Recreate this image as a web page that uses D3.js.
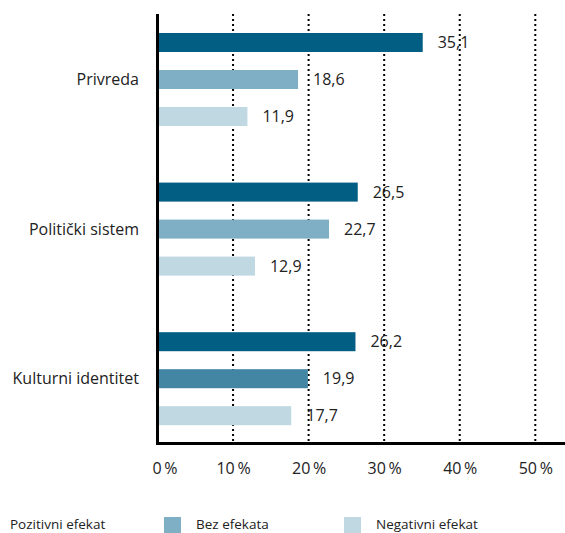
<!DOCTYPE html>
<html><head><meta charset="utf-8">
<script src="https://cdn.jsdelivr.net/npm/d3@7"></script>
<style>
html,body{margin:0;padding:0;background:#fff;}
svg{display:block;}
svg text{font-family:"Open Sans","Noto Sans",sans-serif;font-weight:380;}
</style></head>
<body><svg id="c" width="565" height="533"></svg>
<script>
const categories = ["Privreda", "Politički sistem", "Kulturni identitet"];
const seriesNames = ["Pozitivni efekat", "Bez efekata", "Negativni efekat"];
const pozitivni = [35.1, 26.5, 26.2];
const bezEfekata = [18.6, 22.7, 19.9];
const negativni = [11.9, 12.9, 17.7];
const tickValues = [0, 10, 20, 30, 40, 50];
const barColors = [
  ["#035e84", "#7fafc4", "#bfd8e2"],
  ["#035e84", "#7fafc4", "#bfd8e2"],
  ["#035e84", "#4286a3", "#bfd8e2"]
];
const legendColors = [null, "#7fafc4", "#bfd8e2"];

const values = [pozitivni, bezEfekata, negativni];
const data = categories.map((c, i) => ({cat: c, i, vals: seriesNames.map((s, j) => ({s, j, v: values[j][i]}))}));

const svg = d3.select("#c");
const x = d3.scaleLinear().domain([0, 50]).range([157.5, 535.3]);
const y0 = d3.scaleBand().domain(categories).range([4.7, 453.5]).padding(0);
const y1 = d3.scaleBand().domain(seriesNames).range([-55.5, 55.5]).paddingInner(0.486).paddingOuter(0.243);

// gridlines
svg.append("g").selectAll("line").data(tickValues.filter(d => d > 0)).join("line")
  .attr("x1", d => x(d)).attr("x2", d => x(d))
  .attr("y1", 14).attr("y2", 443)
  .attr("stroke", "#000").attr("stroke-width", 2).attr("stroke-dasharray", "2,3");

// bars
const g = svg.append("g").selectAll("g").data(data).join("g")
  .attr("transform", d => `translate(0,${y0(d.cat) + y0.bandwidth() / 2})`);
g.selectAll("rect").data(d => d.vals.map(v => ({...v, ci: d.i}))).join("rect")
  .attr("x", x(0))
  .attr("y", d => y1(d.s))
  .attr("width", d => x(d.v) - x(0))
  .attr("height", y1.bandwidth())
  .attr("fill", d => barColors[d.ci][d.j]);
g.selectAll("text.val").data(d => d.vals).join("text").attr("class", "val")
  .attr("x", d => x(d.v) + 15)
  .attr("y", d => y1(d.s) + y1.bandwidth() / 2)
  .attr("dy", "0.35em")
  .attr("font-size", 16).attr("fill", "#222")
  .text(d => d3.format(".1f")(d.v).replace(".", ","));

// category labels
svg.append("g").selectAll("text").data(categories).join("text")
  .attr("x", 139).attr("y", d => y0(d) + y0.bandwidth() / 2 + y1(seriesNames[1]) + y1.bandwidth() / 2)
  .attr("dy", "0.35em").attr("text-anchor", "end")
  .attr("font-size", 16).attr("fill", "#222").text(d => d);

// axes lines
svg.append("line").attr("x1", 157.5).attr("x2", 157.5).attr("y1", 14).attr("y2", 445)
  .attr("stroke", "#000").attr("stroke-width", 3);
svg.append("line").attr("x1", 156).attr("x2", 565).attr("y1", 443.5).attr("y2", 443.5)
  .attr("stroke", "#000").attr("stroke-width", 3);

// x tick labels
const xAxis = d3.axisBottom(x).tickValues(tickValues).tickSize(0).tickFormat(d => d + "\u2009%");
const ax = svg.append("g").attr("transform", "translate(0,460)").call(xAxis)
  .attr("font-family", null).attr("font-size", null);
ax.select(".domain").remove();
ax.selectAll("text").attr("font-size", 16).attr("fill", "#222")
  .attr("dx", (d, i) => i === 0 ? 7 : 0);

// legend
const legendX = [10, 164, 344];
const lg = svg.append("g").selectAll("g").data(seriesNames).join("g");
lg.filter((d, i) => legendColors[i]).append("rect")
  .attr("x", d => legendX[seriesNames.indexOf(d)]).attr("y", 517).attr("width", 17).attr("height", 17)
  .attr("fill", d => legendColors[seriesNames.indexOf(d)]);
lg.append("text")
  .attr("x", (d, i) => i === 0 ? 10 : legendX[i] + 32)
  .attr("y", 528.5).attr("font-size", 13.5).attr("fill", "#222").text(d => d);
</script></body></html>
